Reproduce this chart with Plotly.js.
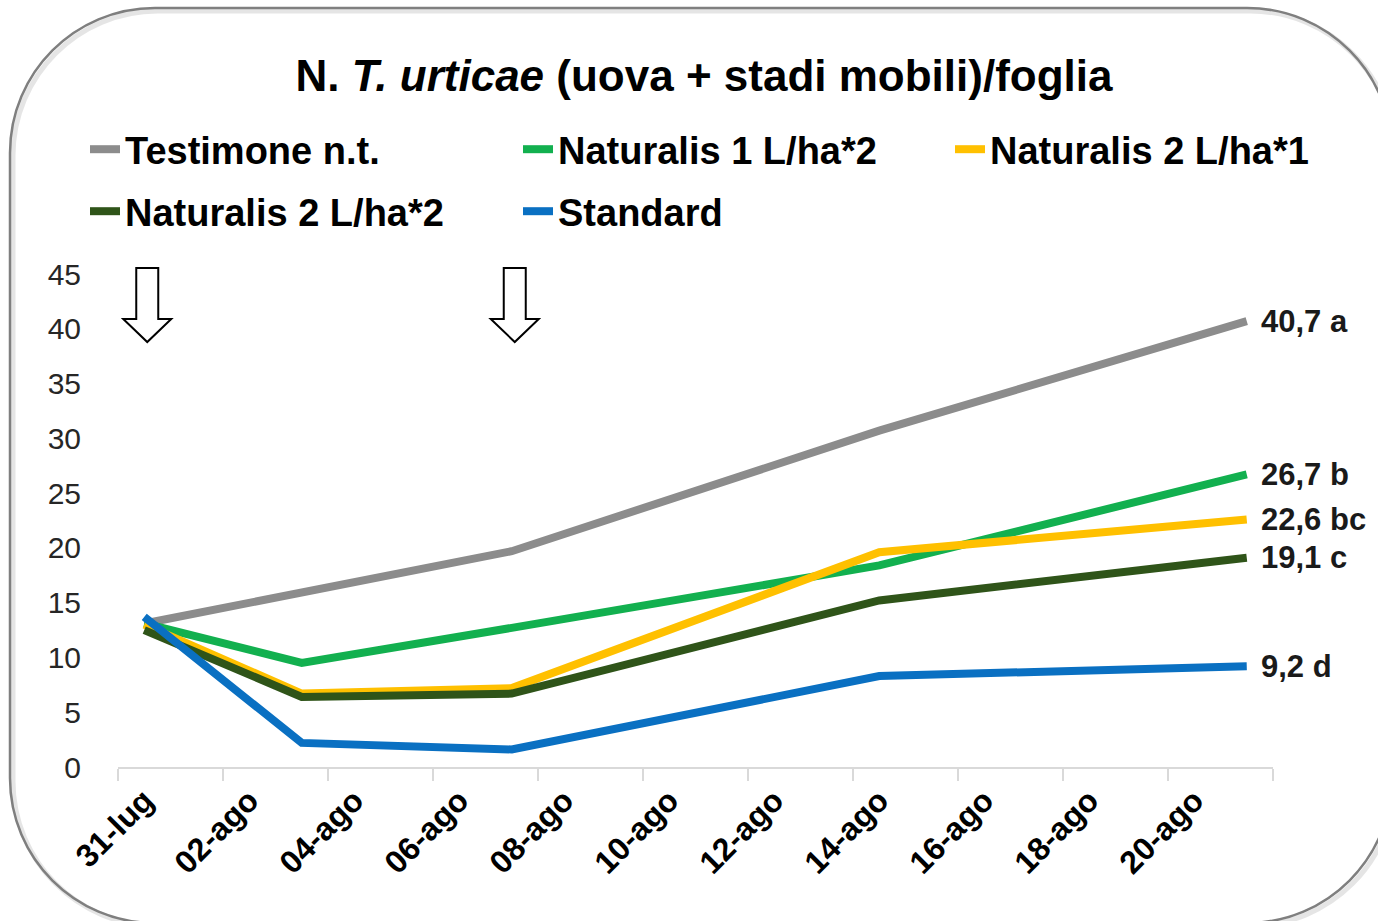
<!DOCTYPE html>
<html>
<head>
<meta charset="utf-8">
<script src="https://cdn.plot.ly/plotly-3.0.1.min.js"></script>
<style>
  html, body { margin: 0; padding: 0; background: #ffffff; }
  #chart { width: 1378px; height: 921px; }
</style>
</head>
<body>
<div id="chart"></div>
<script>
// ---- data ----
const dates = ['2024-07-31', '2024-08-03', '2024-08-07', '2024-08-14', '2024-08-21'];
const seriesNames = ['Testimone n.t.', 'Naturalis 1 L/ha*2', 'Naturalis 2 L/ha*1', 'Naturalis 2 L/ha*2', 'Standard'];
const testimone   = [13.1, 16.0, 19.7, 30.7, 40.7];
const naturalis1x2 = [13.1, 9.5, 12.7, 18.4, 26.7];
const naturalis2x1 = [13.0, 6.7, 7.2, 19.6, 22.6];
const naturalis2x2 = [12.5, 6.4, 6.7, 15.2, 19.1];
const standard     = [13.7, 2.2, 1.6, 8.3, 9.2];
const letters = ['a', 'b', 'bc', 'c', 'd'];
const treatmentDates = ['2024-07-31', '2024-08-07'];
const tickDates = ['2024-07-31', '2024-08-02', '2024-08-04', '2024-08-06', '2024-08-08', '2024-08-10',
                   '2024-08-12', '2024-08-14', '2024-08-16', '2024-08-18', '2024-08-20'];
const tickLabels = ['31-lug', '02-ago', '04-ago', '06-ago', '08-ago', '10-ago',
                    '12-ago', '14-ago', '16-ago', '18-ago', '20-ago'];
const colors = ['#8c8c8c', '#12b04f', '#ffc000', '#2f5419', '#0a70c2'];

// ---- build ----
const mid = d => d + ' 12:00';
const allSeries = [testimone, naturalis1x2, naturalis2x1, naturalis2x2, standard];
const BOLDF = '"Liberation Sans", Arial, sans-serif';
const ARIAL = '"Liberation Sans", Arial, sans-serif';
const legendIds = ['legend', 'legend2', 'legend3', 'legend4', 'legend5'];
// legend grid: 3 columns, 2 rows (pixel positions of each entry's text start / row top)
const colX = [85, 518, 950];
const rowY = [118, 180];

const traces = allSeries.map((vals, i) => ({
  type: 'scatter', mode: 'lines',
  name: seriesNames[i],
  legend: legendIds[i],
  x: dates.map(mid), y: vals,
  line: { color: colors[i], width: 8 },
  hoverinfo: 'skip'
}));

const endAnnotations = allSeries.map((vals, i) => ({
  x: mid(dates[dates.length - 1]), y: vals[vals.length - 1],
  xref: 'x', yref: 'y',
  text: '<b>' + vals[vals.length - 1].toFixed(1).replace('.', ',') + ' ' + letters[i] + '</b>',
  showarrow: false, xanchor: 'left', yanchor: 'middle', xshift: 12,
  font: { family: ARIAL, size: 31, color: '#1a1a1a' }
}));

// plot area in pixels
const L = 118, R = 1273, T = 274, B = 767;
const PX = x => ((x - L) / (R - L)).toFixed(5);
const PY = y => ((B - y) / (B - T)).toFixed(5);
function roundRect(x0, y0, x1, y1, r) {
  const k = r * 0.5523;
  return 'M' + PX(x0 + r) + ',' + PY(y0) +
    ' L' + PX(x1 - r) + ',' + PY(y0) +
    ' C' + PX(x1 - r + k) + ',' + PY(y0) + ' ' + PX(x1) + ',' + PY(y0 + r - k) + ' ' + PX(x1) + ',' + PY(y0 + r) +
    ' L' + PX(x1) + ',' + PY(y1 - r) +
    ' C' + PX(x1) + ',' + PY(y1 - r + k) + ' ' + PX(x1 - r + k) + ',' + PY(y1) + ' ' + PX(x1 - r) + ',' + PY(y1) +
    ' L' + PX(x0 + r) + ',' + PY(y1) +
    ' C' + PX(x0 + r - k) + ',' + PY(y1) + ' ' + PX(x0) + ',' + PY(y1 - r + k) + ' ' + PX(x0) + ',' + PY(y1 - r) +
    ' L' + PX(x0) + ',' + PY(y0 + r) +
    ' C' + PX(x0) + ',' + PY(y0 + r - k) + ' ' + PX(x0 + r - k) + ',' + PY(y0) + ' ' + PX(x0 + r) + ',' + PY(y0) + ' Z';
}
function arrowPath() {
  const c = 3, sw = 11, hw = 24, top = 268, base = 319, tip = 342;
  return 'M' + (c - sw) + ',' + PY(top) + ' L' + (c + sw) + ',' + PY(top) +
    ' L' + (c + sw) + ',' + PY(base) + ' L' + (c + hw) + ',' + PY(base) +
    ' L' + c + ',' + PY(tip) + ' L' + (c - hw) + ',' + PY(base) +
    ' L' + (c - sw) + ',' + PY(base) + ' Z';
}

const shapes = [
  { type: 'path', xref: 'paper', yref: 'paper', path: roundRect(13, 11, 1395, 926, 145),
    line: { color: 'rgba(0,0,0,0.10)', width: 5 }, layer: 'below' },
  { type: 'path', xref: 'paper', yref: 'paper', path: roundRect(10, 8, 1392, 923, 145),
    line: { color: '#7f7f7f', width: 2.5 }, layer: 'below' }
].concat(treatmentDates.map(d => ({
  type: 'path', xref: 'x', yref: 'paper', xsizemode: 'pixel', xanchor: mid(d),
  path: arrowPath(), line: { color: '#000000', width: 2 }, fillcolor: '#ffffff', layer: 'above'
})));

const layout = {
  width: 1378, height: 921,
  paper_bgcolor: '#ffffff', plot_bgcolor: '#ffffff',
  margin: { l: L, r: 1378 - R, t: T, b: 921 - B, pad: 0, autoexpand: false },
  title: {
    text: '<b>N. <i>T. urticae</i> (uova + stadi mobili)/foglia</b>',
    font: { family: BOLDF, size: 44, color: '#000000' },
    xref: 'container', yref: 'container', x: 704 / 1378, y: 1 - 76 / 921,
    xanchor: 'center', yanchor: 'middle'
  },
  showlegend: true,
  xaxis: {
    type: 'date',
    range: ['2024-07-31', '2024-08-22'],
    tickmode: 'array', tickvals: tickDates.map(mid), ticktext: tickLabels,
    tickangle: -45, ticks: '',
    tickfont: { family: BOLDF, size: 32, color: '#000000', weight: 700 },
    showline: true, linecolor: '#d9d9d9', linewidth: 2,
    showgrid: false, zeroline: false,
    minor: { ticks: 'outside', ticklen: 12, tickwidth: 1.5, tickcolor: '#d9d9d9',
             tick0: '2024-07-31', dtick: 2 * 86400000, showgrid: false },
    automargin: false,
    fixedrange: true
  },
  yaxis: {
    range: [0, 45], dtick: 5, tick0: 0,
    showgrid: false, showline: false, zeroline: false, ticks: '',
    tickfont: { family: ARIAL, size: 30, color: '#262626' },
    ticklabelstandoff: 36,
    automargin: false,
    fixedrange: true
  },
  shapes: shapes,
  annotations: endAnnotations
};

legendIds.forEach((id, i) => {
  layout[id] = {
    orientation: 'h', xref: 'container', yref: 'container',
    x: colX[i % 3] / 1378, y: 1 - rowY[Math.floor(i / 3)] / 921,
    xanchor: 'left', yanchor: 'top',
    font: { family: BOLDF, size: 38, color: '#000000', weight: 700 },
    bgcolor: 'rgba(0,0,0,0)', itemclick: false, itemdoubleclick: false
  };
});

Plotly.newPlot('chart', traces, layout, { displayModeBar: false, staticPlot: true });
</script>
</body>
</html>
